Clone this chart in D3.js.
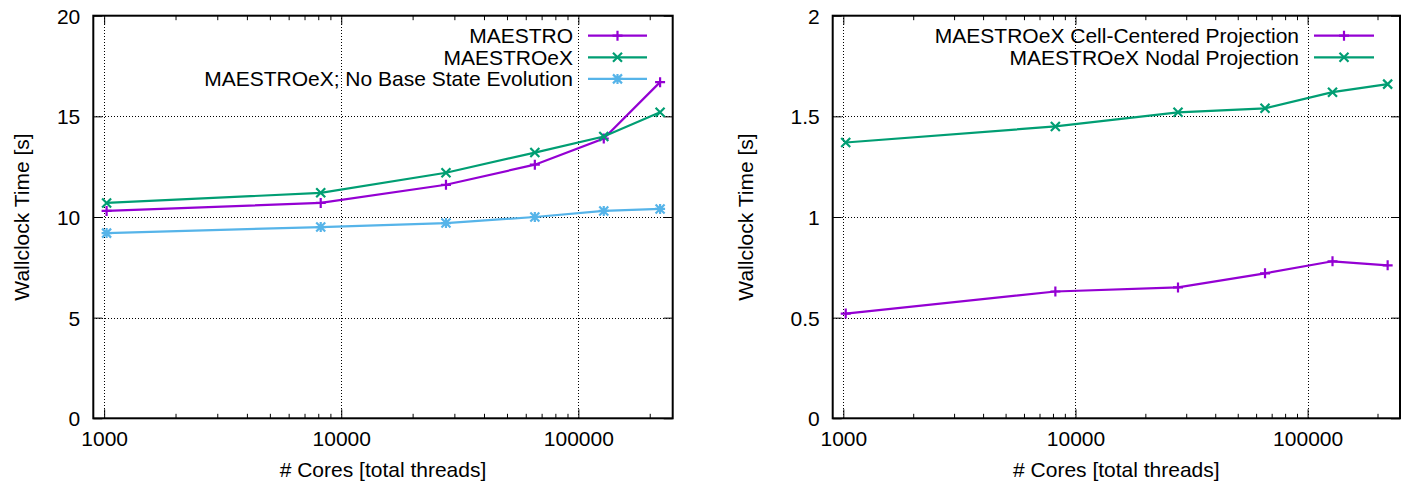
<!DOCTYPE html>
<html>
<head>
<meta charset="utf-8">
<script src="https://cdn.jsdelivr.net/npm/d3@7"></script>
<style>
  body { margin: 0; background: #fff; }
  svg text { font-family: "Liberation Sans", Arial, sans-serif; font-size: 21px; fill: #000; }
</style>
</head>
<body>
<svg id="chart" width="1411" height="485"></svg>
<script>
// core counts are n^3 * 1024, n = 1..6
var cores = [1024, 8192, 27648, 65536, 128000, 221184];

var maestro = [10.3, 10.7, 11.6, 12.6, 13.9, 16.7];
var maestroEx = [10.7, 11.2, 12.2, 13.2, 14.0, 15.2];
var noBaseState = [9.2, 9.5, 9.7, 10.0, 10.3, 10.4];

var cellCentered = [0.52, 0.63, 0.65, 0.72, 0.78, 0.76];
var nodal = [1.37, 1.45, 1.52, 1.54, 1.62, 1.66];

var xTicks = [1000, 10000, 100000];
var leftYTicks = [0, 5, 10, 15, 20];
var rightYTicks = [0, 0.5, 1, 1.5, 2];

var purple = "#9400d3", green = "#009e73", blue = "#56b4e9";

var markers = {
    plus: "M-5,0H5M0,-5V5",
    cross: "M-4.5,-4.5L4.5,4.5M-4.5,4.5L4.5,-4.5",
    star: "M-5,0H5M0,-5V5M-4.5,-4.5L4.5,4.5M-4.5,4.5L4.5,-4.5"
};

var svg = d3.select("#chart");

// minor ticks 2..9 in every decade
var minorTicks = [];
[100, 1000, 10000, 100000].forEach(function(d) {
    for (var k = 2; k <= 9; k++) minorTicks.push(d * k);
});
minorTicks = minorTicks.filter(function(v) { return v > 900 && v < 250000; });

function panel(o) {
    var width = o.right - o.left,
        height = o.bottom - o.top;

    var x = d3.scaleLog()
        .domain([900, 250000])
        .range([0, width]);

    var y = d3.scaleLinear()
        .domain(o.yDomain)
        .range([height, 0]);

    var g = svg.append("g")
        .attr("transform", "translate(" + o.left + "," + o.top + ")");

    // dotted grid
    var grid = g.append("g").attr("class", "grid");
    grid.append("g")
        .attr("transform", "translate(0," + height + ")")
        .call(d3.axisBottom(x).tickValues(xTicks).tickSize(-height).tickFormat(""));
    grid.append("g")
        .call(d3.axisLeft(y).tickValues(o.yTicks.slice(1, -1)).tickSize(-width).tickFormat(""));
    grid.selectAll(".domain").remove();
    grid.selectAll("line")
        .attr("stroke", "#000")
        .attr("stroke-width", 1)
        .attr("stroke-dasharray", "1,2")
        .attr("shape-rendering", "crispEdges");

    // axes, ticks pointing in
    var xb = g.append("g")
        .attr("transform", "translate(0," + height + ")")
        .call(d3.axisBottom(x).tickValues(xTicks).tickSizeInner(-9).tickSizeOuter(0)
            .tickPadding(13).tickFormat(d3.format("d")));
    g.append("g")
        .attr("transform", "translate(0," + height + ")")
        .call(d3.axisBottom(x).tickValues(minorTicks).tickSizeInner(-4.5).tickSizeOuter(0).tickFormat(""));
    g.append("g")
        .call(d3.axisTop(x).tickValues(xTicks).tickSizeInner(-9).tickSizeOuter(0).tickFormat(""));
    g.append("g")
        .call(d3.axisTop(x).tickValues(minorTicks).tickSizeInner(-4.5).tickSizeOuter(0).tickFormat(""));
    var yl = g.append("g")
        .call(d3.axisLeft(y).tickValues(o.yTicks).tickSizeInner(-9).tickSizeOuter(0)
            .tickPadding(13).tickFormat(String));
    g.append("g")
        .attr("transform", "translate(" + width + ",0)")
        .call(d3.axisRight(y).tickValues(o.yTicks).tickSizeInner(-9).tickSizeOuter(0).tickFormat(""));

    g.selectAll(".domain").remove();
    g.selectAll("g").attr("font-family", null).attr("font-size", null);
    xb.selectAll("text").attr("dy", "0.72em");
    yl.selectAll("text").attr("dy", "0.36em");

    // series
    var line = d3.line()
        .x(function(d, i) { return x(cores[i]); })
        .y(function(d) { return y(d); });

    o.series.forEach(function(s) {
        g.append("path")
            .datum(s.values)
            .attr("d", line)
            .attr("fill", "none")
            .attr("stroke", s.color)
            .attr("stroke-width", 2.2);
        g.selectAll(null)
            .data(s.values)
            .enter().append("path")
            .attr("d", markers[s.marker])
            .attr("transform", function(d, i) { return "translate(" + x(cores[i]) + "," + y(d) + ")"; })
            .attr("fill", "none")
            .attr("stroke", s.color)
            .attr("stroke-width", 2.2);
    });

    // frame
    g.append("rect")
        .attr("width", width)
        .attr("height", height)
        .attr("fill", "none")
        .attr("stroke", "#000")
        .attr("stroke-width", 2);

    // legend
    var leg = g.selectAll(".legend")
        .data(o.series)
        .enter().append("g")
        .attr("transform", function(d, i) { return "translate(0," + (20 + i * 21.6) + ")"; });
    leg.append("text")
        .attr("x", o.legendText - o.left)
        .attr("dy", "0.36em")
        .attr("text-anchor", "end")
        .text(function(d) { return d.name; });
    leg.append("line")
        .attr("x1", o.legendLine[0] - o.left)
        .attr("x2", o.legendLine[1] - o.left)
        .attr("stroke", function(d) { return d.color; })
        .attr("stroke-width", 2.2);
    leg.append("path")
        .attr("transform", "translate(" + ((o.legendLine[0] + o.legendLine[1]) / 2 - o.left) + ",0)")
        .attr("d", function(d) { return markers[d.marker]; })
        .attr("fill", "none")
        .attr("stroke", function(d) { return d.color; })
        .attr("stroke-width", 2.2);

    // axis titles
    svg.append("text")
        .attr("x", (o.left + o.right) / 2)
        .attr("y", 477)
        .attr("text-anchor", "middle")
        .text("# Cores [total threads]");
    svg.append("text")
        .attr("transform", "translate(" + o.yLabelX + "," + (o.top + o.bottom) / 2 + ") rotate(-90)")
        .attr("dy", "0.36em")
        .attr("text-anchor", "middle")
        .text("Wallclock Time [s]");
}

panel({
    left: 93.3, right: 672.7, top: 15.7, bottom: 418.3,
    yDomain: [0, 20], yTicks: leftYTicks,
    legendText: 573, legendLine: [588, 647],
    yLabelX: 21,
    series: [
        {name: "MAESTRO", values: maestro, color: purple, marker: "plus"},
        {name: "MAESTROeX", values: maestroEx, color: green, marker: "cross"},
        {name: "MAESTROeX; No Base State Evolution", values: noBaseState, color: blue, marker: "star"}
    ]
});

panel({
    left: 832.7, right: 1400, top: 15.7, bottom: 418.3,
    yDomain: [0, 2], yTicks: rightYTicks,
    legendText: 1299, legendLine: [1314, 1374],
    yLabelX: 745,
    series: [
        {name: "MAESTROeX Cell-Centered Projection", values: cellCentered, color: purple, marker: "plus"},
        {name: "MAESTROeX Nodal Projection", values: nodal, color: green, marker: "cross"}
    ]
});
</script>
</body>
</html>
